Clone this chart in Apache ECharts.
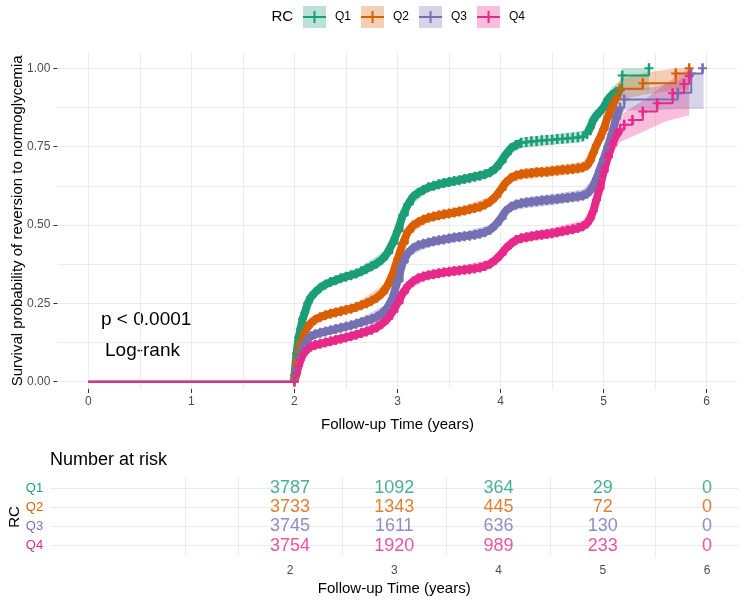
<!DOCTYPE html>
<html><head><meta charset="utf-8">
<script src="https://cdn.jsdelivr.net/npm/echarts@6/dist/echarts.min.js"></script>
<style>html,body{margin:0;padding:0;background:#fff}#c{width:744px;height:605px}</style>
</head><body><div id="c"></div>
<script>
const FONT = '"Liberation Sans", Arial, Helvetica, sans-serif';
const groups = ['Q1', 'Q2', 'Q3', 'Q4'];
const colors = ['#1B9E77', '#D95F02', '#7570B3', '#E7298A'];
const bandColors = ['rgba(27,158,119,0.3)', 'rgba(217,95,2,0.3)', 'rgba(117,112,179,0.3)', 'rgba(231,41,138,0.3)'];

// shared time grid of the dense part of the curves (years)
const baseTime = [0, 2.00, 2.02, 2.04, 2.06, 2.08, 2.10, 2.13, 2.16, 2.20, 2.25, 2.30, 2.35, 2.40, 2.45, 2.50, 2.55, 2.60, 2.65, 2.70, 2.75, 2.80, 2.85, 2.90, 2.95, 3.00, 3.05, 3.10, 3.15, 3.20, 3.25, 3.30, 3.35, 3.40, 3.45, 3.50, 3.55, 3.60, 3.65, 3.70, 3.75, 3.80, 3.85, 3.90, 3.95, 4.00, 4.05, 4.10, 4.15, 4.20, 4.25, 4.30, 4.35, 4.40, 4.45, 4.50, 4.55, 4.60, 4.65, 4.70, 4.75, 4.80, 4.84, 4.87, 4.90, 4.93, 4.96, 5.00, 5.04, 5.08, 5.12, 5.16];

const q1Surv = [0, 0.02, 0.09, 0.14, 0.17, 0.20, 0.22, 0.25, 0.27, 0.285, 0.30, 0.31, 0.318, 0.324, 0.33, 0.335, 0.34, 0.345, 0.352, 0.36, 0.368, 0.377, 0.39, 0.41, 0.44, 0.48, 0.53, 0.565, 0.59, 0.603, 0.612, 0.62, 0.625, 0.63, 0.634, 0.637, 0.64, 0.643, 0.647, 0.65, 0.654, 0.657, 0.662, 0.668, 0.68, 0.70, 0.725, 0.745, 0.755, 0.762, 0.765, 0.767, 0.768, 0.77, 0.771, 0.772, 0.774, 0.775, 0.777, 0.778, 0.78, 0.783, 0.79, 0.81, 0.835, 0.85, 0.86, 0.875, 0.90, 0.915, 0.925, 0.93];
const q2Surv = [0, 0.01, 0.06, 0.095, 0.125, 0.145, 0.16, 0.175, 0.187, 0.198, 0.206, 0.212, 0.217, 0.221, 0.225, 0.229, 0.233, 0.238, 0.244, 0.25, 0.258, 0.268, 0.282, 0.305, 0.34, 0.39, 0.44, 0.478, 0.498, 0.509, 0.517, 0.523, 0.527, 0.531, 0.534, 0.537, 0.54, 0.543, 0.546, 0.55, 0.554, 0.558, 0.565, 0.575, 0.59, 0.612, 0.635, 0.65, 0.658, 0.662, 0.664, 0.666, 0.668, 0.669, 0.67, 0.672, 0.674, 0.676, 0.677, 0.679, 0.681, 0.684, 0.69, 0.705, 0.73, 0.755, 0.775, 0.805, 0.845, 0.875, 0.905, 0.935];
const q3Surv = [0, 0.005, 0.04, 0.07, 0.095, 0.113, 0.125, 0.137, 0.145, 0.151, 0.156, 0.16, 0.164, 0.168, 0.172, 0.176, 0.18, 0.185, 0.19, 0.195, 0.2, 0.207, 0.218, 0.235, 0.265, 0.32, 0.38, 0.41, 0.426, 0.435, 0.44, 0.444, 0.448, 0.451, 0.454, 0.457, 0.46, 0.462, 0.464, 0.466, 0.469, 0.472, 0.477, 0.485, 0.5, 0.52, 0.545, 0.558, 0.565, 0.569, 0.572, 0.574, 0.576, 0.578, 0.58, 0.581, 0.583, 0.585, 0.587, 0.589, 0.591, 0.594, 0.6, 0.61, 0.625, 0.648, 0.675, 0.71, 0.75, 0.79, 0.84, 0.875];
const q4Surv = [0, 0, 0.025, 0.05, 0.07, 0.085, 0.095, 0.105, 0.112, 0.117, 0.121, 0.125, 0.129, 0.133, 0.137, 0.141, 0.145, 0.15, 0.155, 0.16, 0.166, 0.173, 0.185, 0.2, 0.222, 0.25, 0.282, 0.305, 0.32, 0.33, 0.336, 0.34, 0.343, 0.346, 0.349, 0.351, 0.353, 0.355, 0.357, 0.359, 0.361, 0.364, 0.369, 0.376, 0.388, 0.405, 0.425, 0.44, 0.452, 0.458, 0.461, 0.464, 0.467, 0.469, 0.471, 0.474, 0.477, 0.48, 0.483, 0.486, 0.49, 0.496, 0.505, 0.52, 0.545, 0.58, 0.615, 0.67, 0.715, 0.755, 0.785, 0.805];

// late steps of each curve
const q1LateTime = [5.18, 5.44];
const q1LateSurv = [0.977, 1.0];
const q2LateTime = [5.38, 5.70, 5.83];
const q2LateSurv = [0.952, 0.983, 1.0];
const q3LateTime = [5.20, 5.72, 5.85, 5.96];
const q3LateSurv = [0.90, 0.922, 0.983, 1.0];
const q4LateTime = [5.20, 5.28, 5.38, 5.52, 5.67, 5.78, 5.83];
const q4LateSurv = [0.82, 0.835, 0.862, 0.888, 0.92, 0.95, 0.975];

// time spans where the censoring marks are so dense that they form a solid band
const q1Dense = [[2.0, 4.2], [4.84, 5.16]];
const q2Dense = [[2.0, 5.16]];
const q3Dense = [[2.0, 5.16]];
const q4Dense = [[2.0, 5.16]];

// confidence bands
const q1BandTime = [2.00, 2.05, 2.10, 2.20, 2.30, 2.60, 2.90, 3.00, 3.10, 3.30, 3.60, 3.90, 4.00, 4.10, 4.20, 4.50, 4.80, 4.90, 5.00, 5.08, 5.16, 5.18, 5.44];
const q1BandLow = [0.00, 0.145, 0.205, 0.275, 0.298, 0.333, 0.397, 0.467, 0.553, 0.607, 0.630, 0.655, 0.685, 0.728, 0.745, 0.755, 0.765, 0.815, 0.855, 0.89, 0.90, 0.93, 0.93];
const q1BandHigh = [0.04, 0.175, 0.235, 0.295, 0.322, 0.357, 0.423, 0.493, 0.577, 0.633, 0.656, 0.681, 0.715, 0.762, 0.779, 0.789, 0.801, 0.855, 0.895, 0.94, 0.96, 1.0, 1.0];
const q2BandTime = [2.00, 2.05, 2.10, 2.20, 2.30, 2.60, 2.90, 3.00, 3.10, 3.30, 3.60, 3.90, 4.00, 4.10, 4.20, 4.50, 4.80, 4.90, 5.00, 5.08, 5.16, 5.38, 5.70, 5.83];
const q2BandLow = [0.0, 0.10, 0.148, 0.187, 0.20, 0.226, 0.292, 0.376, 0.465, 0.51, 0.529, 0.56, 0.597, 0.635, 0.645, 0.655, 0.666, 0.71, 0.78, 0.85, 0.90, 0.915, 0.93, 0.93];
const q2BandHigh = [0.03, 0.13, 0.172, 0.21, 0.224, 0.25, 0.318, 0.404, 0.491, 0.536, 0.557, 0.59, 0.627, 0.665, 0.679, 0.689, 0.702, 0.75, 0.83, 0.90, 0.965, 0.985, 1.0, 1.0];
const q3BandTime = [2.00, 2.05, 2.10, 2.20, 2.30, 2.60, 2.90, 3.00, 3.10, 3.30, 3.60, 3.90, 4.00, 4.10, 4.20, 4.50, 4.80, 4.90, 5.00, 5.08, 5.16, 5.20, 5.50, 5.72, 5.85, 5.97];
const q3BandLow = [0.0, 0.07, 0.113, 0.14, 0.149, 0.174, 0.222, 0.306, 0.397, 0.43, 0.448, 0.47, 0.505, 0.542, 0.552, 0.563, 0.577, 0.60, 0.68, 0.76, 0.84, 0.865, 0.866, 0.87, 0.87, 0.87];
const q3BandHigh = [0.02, 0.10, 0.137, 0.162, 0.171, 0.196, 0.248, 0.334, 0.423, 0.458, 0.476, 0.50, 0.535, 0.574, 0.586, 0.599, 0.613, 0.65, 0.74, 0.82, 0.91, 0.935, 0.94, 0.96, 0.985, 0.985];
const q4BandTime = [2.00, 2.05, 2.10, 2.20, 2.30, 2.60, 2.90, 3.00, 3.10, 3.30, 3.60, 3.90, 4.00, 4.10, 4.20, 4.50, 4.80, 4.90, 5.00, 5.08, 5.16, 5.20, 5.40, 5.60, 5.83];
const q4BandLow = [0.0, 0.05, 0.083, 0.105, 0.114, 0.139, 0.188, 0.237, 0.292, 0.327, 0.342, 0.362, 0.39, 0.425, 0.443, 0.458, 0.48, 0.525, 0.64, 0.72, 0.765, 0.77, 0.80, 0.83, 0.85];
const q4BandHigh = [0.015, 0.075, 0.107, 0.129, 0.136, 0.161, 0.212, 0.263, 0.318, 0.353, 0.368, 0.39, 0.42, 0.455, 0.473, 0.49, 0.515, 0.565, 0.70, 0.79, 0.845, 0.86, 0.90, 0.95, 1.0];

// number at risk table
const riskTimes = [2, 3, 4, 5, 6];
const q1Risk = [3787, 1092, 364, 29, 0];
const q2Risk = [3733, 1343, 445, 72, 0];
const q3Risk = [3745, 1611, 636, 130, 0];
const q4Risk = [3754, 1920, 989, 233, 0];

// axis ticks and grid lines
const mainXTicks = [0, 1, 2, 3, 4, 5, 6];
const mainXGrid = [0, 0.5, 1, 1.5, 2, 2.5, 3, 3.5, 4, 4.5, 5, 5.5, 6];
const mainYTicks = [0, 0.25, 0.5, 0.75, 1];
const mainYGrid = [0, 0.125, 0.25, 0.375, 0.5, 0.625, 0.75, 0.875, 1];
const tableXTicks = [2, 3, 4, 5, 6];
const tableXGrid = [1, 1.5, 2.5, 3.5, 4.5, 5.5];
const tableRows = [1, 2, 3, 4];

const gd = [
  {surv: q1Surv, lt: q1LateTime, ls: q1LateSurv, dense: q1Dense, bt: q1BandTime, bl: q1BandLow, bh: q1BandHigh, risk: q1Risk},
  {surv: q2Surv, lt: q2LateTime, ls: q2LateSurv, dense: q2Dense, bt: q2BandTime, bl: q2BandLow, bh: q2BandHigh, risk: q2Risk},
  {surv: q3Surv, lt: q3LateTime, ls: q3LateSurv, dense: q3Dense, bt: q3BandTime, bl: q3BandLow, bh: q3BandHigh, risk: q3Risk},
  {surv: q4Surv, lt: q4LateTime, ls: q4LateSurv, dense: q4Dense, bt: q4BandTime, bl: q4BandLow, bh: q4BandHigh, risk: q4Risk}
];

const plusPath = 'path://M0,4 L9,4 L9,6 L0,6 Z M3.25,0 L5.75,0 L5.75,10 L3.25,10 Z';
const legendFill = 'path://M0,0 M27,22 M0,0 L23,0 L23,22 L0,22 Z';
const legendPlus = 'path://M0,0 M27,22 M0,10 L23,10 L23,12 L0,12 Z M10.5,5 L12.5,5 L12.5,17 L10.5,17 Z';

const Y_MIN = -0.0233, Y_MAX = 1.05;
const gridLine = {show: true, lineStyle: {color: '#EBEBEB', width: 1}};
const noLine = {show: false, onZero: false};

const series = [];
gd.forEach((g, i) => {
  series.push({
    type: 'custom', name: groups[i] + ' CI', xAxisIndex: 0, yAxisIndex: 0, silent: true, z: 1,
    data: [[0, 0]],
    renderItem: (params, api) => {
      const pts = [];
      for (let k = 0; k < g.bt.length; k++) pts.push(api.coord([g.bt[k], g.bh[k]]));
      for (let k = g.bt.length - 1; k >= 0; k--) pts.push(api.coord([g.bt[k], g.bl[k]]));
      return {type: 'polygon', shape: {points: pts}, style: {fill: bandColors[i]}};
    }
  });
});
gd.forEach((g, i) => {
  const inDense = (t) => g.dense.some((r) => t >= r[0] - 1e-9 && t <= r[1] + 1e-9);
  // solid band of overlapping censoring marks
  series.push({
    type: 'line', name: groups[i] + ' marks', xAxisIndex: 0, yAxisIndex: 0, z: 3, silent: true,
    data: baseTime.map((t, k) => inDense(t) ? [t, g.surv[k]] : [t, null]),
    connectNulls: false, showSymbol: false, symbol: 'none',
    lineStyle: {color: colors[i], width: 8, join: 'round', cap: 'butt'},
    emphasis: {disabled: true}
  });
  const times = baseTime.concat(g.lt);
  const vals = g.surv.concat(g.ls);
  series.push({
    type: 'line', name: groups[i], xAxisIndex: 0, yAxisIndex: 0, step: 'end', z: 3,
    data: times.map((t, k) => [t, vals[k]]),
    lineStyle: {color: colors[i], width: 2},
    itemStyle: {color: colors[i]},
    symbol: plusPath,
    symbolSize: (v) => v[0] < 1.5 ? 0 : [9, 10],
    showSymbol: true,
    emphasis: {disabled: true},
    silent: true
  });
});
gd.forEach((g, i) => {
  series.push({
    type: 'scatter', name: groups[i] + ' risk', xAxisIndex: 2, yAxisIndex: 2, symbolSize: 0, silent: true,
    data: riskTimes.map((t, k) => [t, 4 - i, g.risk[k]]),
    label: {show: true, position: 'inside', formatter: (p) => String(p.value[2]), color: colors[i], fontSize: 18, fontFamily: FONT}
  });
});

const rich = {};
groups.forEach((n, i) => { rich['g' + i] = {color: colors[i], fontSize: 13, fontFamily: FONT}; });

const option = {
  animation: false,
  backgroundColor: '#fff',
  textStyle: {fontFamily: FONT},
  grid: [
    {left: 57.4, width: 680.2, top: 52.6, height: 336.4, containLabel: false, outerBoundsMode: 'none'},
    {left: 50.2, width: 688.1, top: 477, height: 80, containLabel: false, outerBoundsMode: 'none'}
  ],
  xAxis: [
    {gridIndex: 0, type: 'value', min: -0.3, max: 6.3, axisLine: noLine,
     axisTick: {show: false, customValues: mainXGrid}, axisLabel: {show: false}, splitLine: gridLine},
    {gridIndex: 0, type: 'value', position: 'bottom', min: -0.3, max: 6.3, axisLine: noLine,
     axisTick: {show: true, length: 4, customValues: mainXTicks, lineStyle: {color: '#333', width: 1}},
     axisLabel: {customValues: mainXTicks, color: '#4D4D4D', fontSize: 12, margin: 7, fontFamily: FONT},
     splitLine: {show: false},
     name: 'Follow-up Time (years)', nameLocation: 'middle', nameGap: 28, nameMoveOverlap: false,
     nameTextStyle: {fontSize: 15, color: '#000', fontFamily: FONT}},
    {gridIndex: 1, type: 'value', min: -0.3, max: 6.3, axisLine: noLine,
     axisTick: {show: false, customValues: tableXGrid}, axisLabel: {show: false}, splitLine: gridLine},
    {gridIndex: 1, type: 'value', position: 'bottom', min: -0.3, max: 6.3, axisLine: noLine,
     axisTick: {show: false, customValues: tableXTicks},
     axisLabel: {customValues: tableXTicks, color: '#4D4D4D', fontSize: 12, margin: 8, fontFamily: FONT},
     splitLine: {show: false},
     name: 'Follow-up Time (years)', nameLocation: 'middle', nameGap: 24, nameMoveOverlap: false,
     nameTextStyle: {fontSize: 15, color: '#000', fontFamily: FONT}}
  ],
  yAxis: [
    {gridIndex: 0, type: 'value', min: Y_MIN, max: Y_MAX, axisLine: noLine,
     axisTick: {show: false, customValues: mainYGrid}, axisLabel: {show: false}, splitLine: gridLine},
    {gridIndex: 0, type: 'value', position: 'left', min: Y_MIN, max: Y_MAX, axisLine: noLine,
     axisTick: {show: true, length: 4, customValues: mainYTicks, lineStyle: {color: '#333', width: 1}},
     axisLabel: {customValues: mainYTicks, formatter: (v) => Number(v).toFixed(2), color: '#4D4D4D', fontSize: 12, margin: 7, fontFamily: FONT},
     splitLine: {show: false},
     name: 'Survival probability of reversion to normoglycemia', nameLocation: 'middle', nameGap: 32, nameRotate: 90, nameMoveOverlap: false,
     nameTextStyle: {fontSize: 15, color: '#000', fontFamily: FONT}},
    {gridIndex: 1, type: 'value', min: 0.4, max: 4.6, axisLine: noLine,
     axisTick: {show: false, customValues: tableRows},
     axisLabel: {customValues: tableRows, margin: 7, formatter: (v) => { const i = 4 - Math.round(v); return '{g' + i + '|' + groups[i] + '}'; }, rich: rich},
     splitLine: gridLine,
     name: 'RC', nameLocation: 'middle', nameGap: 28, nameRotate: 90, nameMoveOverlap: false,
     nameTextStyle: {fontSize: 15, color: '#000', fontFamily: FONT}}
  ],
  legend: [
    {left: 303, top: 6, padding: 0, itemWidth: 27, itemHeight: 22, itemGap: 10, selectedMode: false,
     data: groups.map((n, i) => ({name: n, icon: legendFill, itemStyle: {color: bandColors[i]}})),
     textStyle: {fontSize: 12, color: '#000', fontFamily: FONT}},
    {left: 303, top: 6, padding: 0, itemWidth: 27, itemHeight: 22, itemGap: 10, selectedMode: false,
     data: groups.map((n, i) => ({name: n, icon: legendPlus, itemStyle: {color: colors[i]}})),
     textStyle: {fontSize: 12, color: 'rgba(0,0,0,0)', fontFamily: FONT}}
  ],
  graphic: [
    {type: 'text', x: 271.5, y: 17, silent: true, style: {text: 'RC', fontSize: 15, fontFamily: FONT, fill: '#000', verticalAlign: 'middle'}},
    {type: 'text', x: 101, y: 320, silent: true, style: {text: 'p < 0.0001', fontSize: 19, fontFamily: FONT, fill: '#000', verticalAlign: 'middle'}},
    {type: 'text', x: 105, y: 351, silent: true, style: {text: 'Log-rank', fontSize: 19, fontFamily: FONT, fill: '#000', verticalAlign: 'middle'}},
    {type: 'text', x: 50, y: 460, silent: true, style: {text: 'Number at risk', fontSize: 18, fontFamily: FONT, fill: '#000', verticalAlign: 'middle'}}
  ],
  series: series
};

const chart = echarts.init(document.getElementById('c'), null, {renderer: 'canvas'});
chart.setOption(option);
</script>
</body></html>
